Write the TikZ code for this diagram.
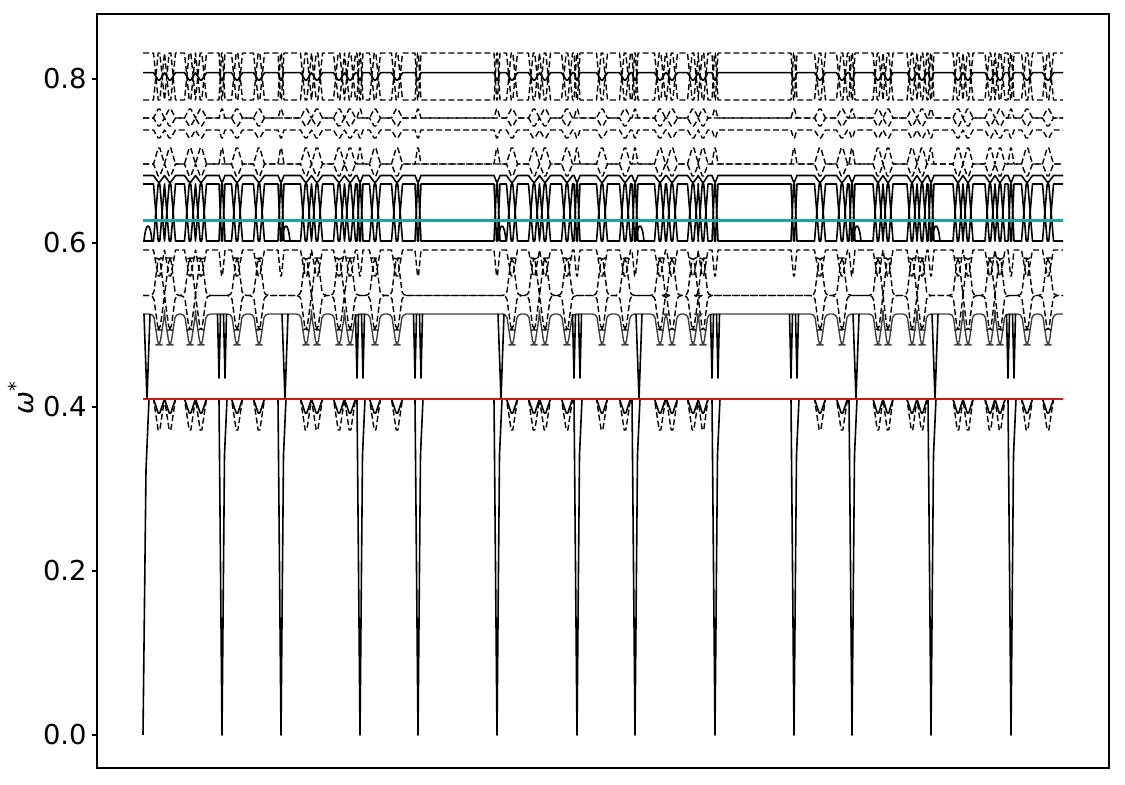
\documentclass[tikz,border=0pt]{standalone}
\usepackage{fontspec}
\setmainfont{DejaVu Sans}
\usetikzlibrary{calc}
\definecolor{cyanline}{HTML}{1FA3A3}
\definecolor{redline}{HTML}{CC1A1A}
\tikzset{
  sol/.style={draw=black, line width=0.8pt, line join=round},
  dsh/.style={draw=black, line width=0.7pt, dash pattern=on 3pt off 1.5pt, line join=round},
  oval/.style={dsh, rounded corners=2pt},
  soft/.style={draw=black!75, line width=0.7pt, line join=round, rounded corners=2pt},
  frame/.style={draw=black, line width=0.6pt},
  tick/.style={draw=black, line width=0.6pt},
  lab/.style={font=\fontsize{13.7}{16}\selectfont, inner sep=0pt},
}
% style, base level, turning level, list of x/half width
\newcommand\band[4]{%
  \draw[#1] (143,#2) \foreach \c/\h in #4 {
    -- ({\c-\h},#2) -- ({\c-0.15*\h},#3) -- ({\c+0.15*\h},#3) -- ({\c+\h},#2)
  } -- (1063,#2);
}
\begin{document}
\begin{tikzpicture}[x=0.5pt,y=-0.5pt]
  \useasboundingbox (0,0) rectangle (1125,785);
  \def\feats{159/5.5,170/5.5,190/5.5,201/5.5,237/5.5,259/5.5,306/5.5,317/5.5,339/5.5,350/5.5,375/5.5,397/5.5,512/5.5,534/5.5,545/5.5,567/5.5,602/5.5,625/5.5,660/5.5,672/5.5,693/5.5,703/5,820/5.5,842/5.5,878/5,888/5,912/5,922/5,958/5,968/5,990/5,1000/5,1027/5.5,1048/5.5}
  \def\events{159/5.5,170/5.5,190/5.5,201/5.5,222/3,237/5.5,259/5.5,281/3,306/5.5,317/5.5,339/5.5,350/5.5,360/3,375/5.5,397/5.5,418/3,497/3,512/5.5,534/5.5,545/5.5,567/5.5,577/3,602/5.5,625/5.5,635/3,660/5.5,672/5.5,693/5.5,703/5,715/3,794/3,820/5.5,842/5.5,852/3,878/5,888/5,912/5,922/5,931/3,958/5,968/5,990/5,1000/5,1011/3,1027/5.5,1048/5.5}
  \def\bnda{143,281,497,635,852,931}
  \def\bndb{222,360,418,577,715,794,1011}

  % upper bands
  \band{dsh}{53}{100}{\events}
  \band{dsh}{100}{53}{\events}
  \band{sol}{72.7}{80}{\events}
  \band{dsh}{118}{109}{\events}
  \band{dsh}{118}{126}{\feats}
  \band{dsh}{130}{138}{\events}
  \band{dsh}{164}{148}{\events}
  \band{dsh}{164}{176}{\feats}
  \band{sol}{175.5}{182}{\events}
  \band{sol}{184}{241}{\events}
  \band{sol}{241}{184}{\events}
  \band{dsh}{250}{276}{\events}
  \band{oval}{295.5}{258}{\feats}
  \band{oval}{295.5}{330}{\feats}
  \band{soft}{314}{345}{\feats}
  % lower bands
  \band{sol}{399}{413}{\feats}
  \band{dsh}{399}{430}{\feats}

  \foreach \b in \bnda {
    \draw[sol] (\b+1,314) -- (\b+4,399) -- (\b+7,314);
    \draw[sol] (\b+1,241) .. controls (\b+3,221) and (\b+7,221) .. (\b+9,241);
  }
  \foreach \b in \bndb {
    \draw[sol] (\b-4.5,314) -- (\b-3,378) -- (\b-1.5,314) (\b+1.5,314) -- (\b+3,378) -- (\b+4.5,314);
    \draw[sol] (\b-3,399) -- (\b,735) -- (\b+2.5,455) -- (\b+5,399);
  }
  \foreach \b in {281,497,635,852,931}
    \draw[sol] (\b-3,399) -- (\b,735) -- (\b+2.5,455) -- (\b+5,399);
  \draw[sol] (143,735) -- (146,470) -- (149,399);

  \draw[redline, line width=1pt] (143,399) -- (1063,399);
  \draw[cyanline, line width=1.75pt] (143,220.5) -- (1063,220.5);

  % axes
  \draw[frame] (97,14) rectangle (1109,768);
  \foreach \w [count=\i] in {0.0,0.2,0.4,0.6,0.8} {
    \draw[tick] (92,{735-820*\w}) -- (97,{735-820*\w});
    \node[lab, anchor=east] (t\i) at (87,{735-820*\w}) {\w};
  }
  \node[lab, rotate=90] (ylab) at (21,398) {\textit{ω}\textsuperscript{*}};
\end{tikzpicture}
\end{document}
